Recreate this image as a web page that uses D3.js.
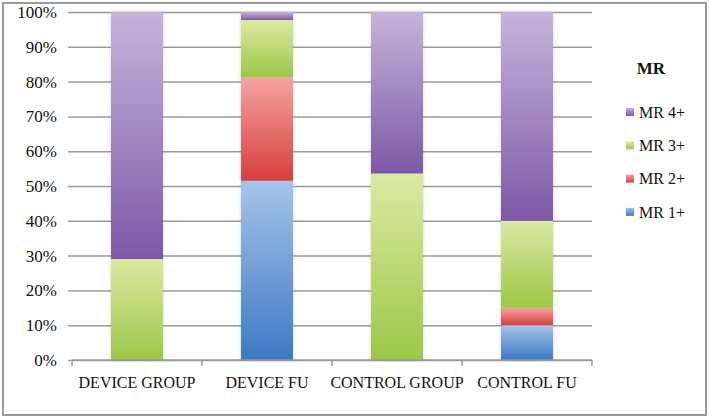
<!DOCTYPE html>
<html>
<head>
<meta charset="utf-8">
<script src="https://cdn.jsdelivr.net/npm/d3@7"></script>
<style>
  body { margin: 0; background: #fff; }
  svg text { font-family: "Liberation Serif", "DejaVu Serif", serif; fill: #111; }
</style>
</head>
<body>
<svg id="chart" width="709" height="418"></svg>
<script>
// chart values
const categories = ["DEVICE GROUP", "DEVICE FU", "CONTROL GROUP", "CONTROL FU"];
const seriesNames = ["MR 1+", "MR 2+", "MR 3+", "MR 4+"];
const mr1 = [0, 51.5, 0, 10];
const mr2 = [0, 29.7, 0, 5];
const mr3 = [29, 16.5, 53.6, 25];
const mr4 = [71, 2.3, 46.4, 60];
const yTicks = [0, 10, 20, 30, 40, 50, 60, 70, 80, 90, 100];

// top / bottom colour of each series gradient
const gradTop = ["#a6c4ea", "#f6a3a2", "#dce9a3", "#c6b4db"];
const gradBottom = ["#3c79c4", "#d53f3b", "#9bc848", "#7d58a6"];

let svg = d3.select("#chart");
let plotLeft = 72, plotRight = 592, plotTop = 12, plotBottom = 360;

// outer frame
svg.append("rect")
    .attr("x", 3).attr("y", 3)
    .attr("width", 703).attr("height", 412)
    .attr("fill", "none")
    .attr("stroke", "#9a9a9a")
    .attr("stroke-width", 2);

let defs = svg.append("defs");
seriesNames.forEach(function(name, i) {
    let g = defs.append("linearGradient")
        .attr("id", "grad" + i)
        .attr("x1", 0).attr("y1", 0).attr("x2", 0).attr("y2", 1);
    g.append("stop").attr("offset", "0%").attr("stop-color", gradTop[i]);
    g.append("stop").attr("offset", "100%").attr("stop-color", gradBottom[i]);
});
// faint drop shadow like the office chart
let shadow = defs.append("filter").attr("id", "shadow")
    .attr("x", "-10%").attr("y", "-5%").attr("width", "120%").attr("height", "110%");
shadow.append("feDropShadow")
    .attr("dx", 0).attr("dy", 0).attr("stdDeviation", 1.5)
    .attr("flood-color", "#000").attr("flood-opacity", 0.18);

let x = d3.scaleBand()
    .domain(categories)
    .range([plotLeft, plotRight])
    .paddingInner(0.6)
    .paddingOuter(0.3);

let y = d3.scaleLinear()
    .domain([0, 100])
    .range([plotBottom, plotTop]);

// gridlines + y labels
let grid = svg.append("g").attr("transform", "translate(" + plotLeft + ",0)")
    .call(d3.axisLeft(y).tickValues(yTicks).tickSize(-(plotRight - plotLeft)).tickSizeOuter(0)
        .tickFormat(function(d) { return d + "%"; }));
grid.select(".domain").remove();
grid.selectAll(".tick line")
    .attr("x1", -4)
    .attr("stroke", "#9a9a9a")
    .attr("stroke-width", 1.5);
grid.selectAll(".tick text")
    .attr("x", -15)
    .style("font-size", "17px");

// stacked bars
let table = categories.map(function(c, i) {
    return { cat: c, "MR 1+": mr1[i], "MR 2+": mr2[i], "MR 3+": mr3[i], "MR 4+": mr4[i] };
});
let stacked = d3.stack().keys(seriesNames)(table);

svg.append("g").attr("filter", "url(#shadow)").selectAll("g")
    .data(stacked)
    .enter().append("g")
    .attr("fill", function(d, i) { return "url(#grad" + i + ")"; })
    .selectAll("rect")
    .data(function(d) { return d.filter(function(p) { return p[1] - p[0] > 0; }); })
    .enter().append("rect")
    .attr("x", function(d) { return x(d.data.cat); })
    .attr("y", function(d) { return y(d[1]); })
    .attr("width", x.bandwidth())
    .attr("height", function(d) { return y(d[0]) - y(d[1]); });

// x axis with ticks between groups
let xAxis = svg.append("g").attr("transform", "translate(0," + plotBottom + ")");
xAxis.append("line")
    .attr("x1", plotLeft).attr("x2", plotRight)
    .attr("stroke", "#9a9a9a").attr("stroke-width", 1.5);
xAxis.selectAll(".sep")
    .data(d3.range(categories.length + 1))
    .enter().append("line")
    .attr("x1", function(i) { return plotLeft + i * (plotRight - plotLeft) / categories.length; })
    .attr("x2", function(i) { return plotLeft + i * (plotRight - plotLeft) / categories.length; })
    .attr("y1", 0).attr("y2", 6)
    .attr("stroke", "#9a9a9a").attr("stroke-width", 1.5);
xAxis.selectAll(".lbl")
    .data(categories)
    .enter().append("text")
    .attr("x", function(d) { return x(d) + x.bandwidth() / 2; })
    .attr("y", 22)
    .attr("dy", "0.35em")
    .attr("text-anchor", "middle")
    .style("font-size", "16px")
    .text(function(d) { return d; });

// legend
let legend = svg.append("g").attr("transform", "translate(626,0)");
legend.append("text")
    .attr("x", 25).attr("y", 68)
    .attr("dy", "0.35em")
    .attr("text-anchor", "middle")
    .style("font-size", "17px")
    .style("font-weight", "bold")
    .text("MR");
let legendOrder = seriesNames.slice().reverse();
let item = legend.selectAll(".item")
    .data(legendOrder)
    .enter().append("g")
    .attr("transform", function(d, i) { return "translate(0," + (112 + i * 33.3) + ")"; });
item.append("rect")
    .attr("x", 0).attr("y", -4)
    .attr("width", 8).attr("height", 8)
    .attr("fill", function(d) { return "url(#grad" + seriesNames.indexOf(d) + ")"; });
item.append("text")
    .attr("x", 13)
    .attr("dy", "0.35em")
    .style("font-size", "16px")
    .text(function(d) { return d; });
</script>
</body>
</html>
